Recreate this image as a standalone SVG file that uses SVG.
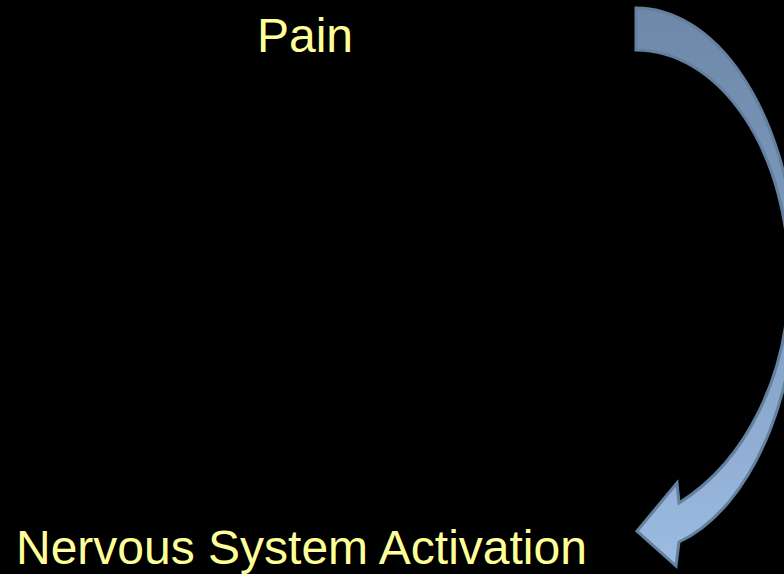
<svg xmlns="http://www.w3.org/2000/svg" width="784" height="574" viewBox="0 0 784 574">
  <defs>
    <linearGradient id="arrowFill" gradientUnits="userSpaceOnUse" x1="0" y1="8" x2="0" y2="567">
      <stop offset="0" stop-color="#6f88a9"/>
      <stop offset="0.5" stop-color="#7f9cc0"/>
      <stop offset="1" stop-color="#9dbce2"/>
    </linearGradient>
    <style>
      .label { font-family: "Liberation Sans", Arial, sans-serif; font-size: 48px; fill: #ffff99; }
      .arrow { fill: url(#arrowFill); stroke: #64809f; stroke-width: 3; stroke-linejoin: miter; }
    </style>
  </defs>
  <rect x="0" y="0" width="784" height="574" fill="#000000"/>
  <g id="connectors">
    <path class="arrow" d="M 636,8 A 161 272 0 0 1 679,542 L 676,566 L 637,531 L 677,483 L 679,503 A 195 250 0 0 0 789,278 A 153 228 0 0 0 636,50 Z"/>
  </g>
  <g id="node-pain">
    <text class="label" x="305" y="52" text-anchor="middle">Pain</text>
  </g>
  <g id="node-nervous">
    <text class="label" x="16" y="564">Nervous System Activation</text>
  </g>
</svg>
